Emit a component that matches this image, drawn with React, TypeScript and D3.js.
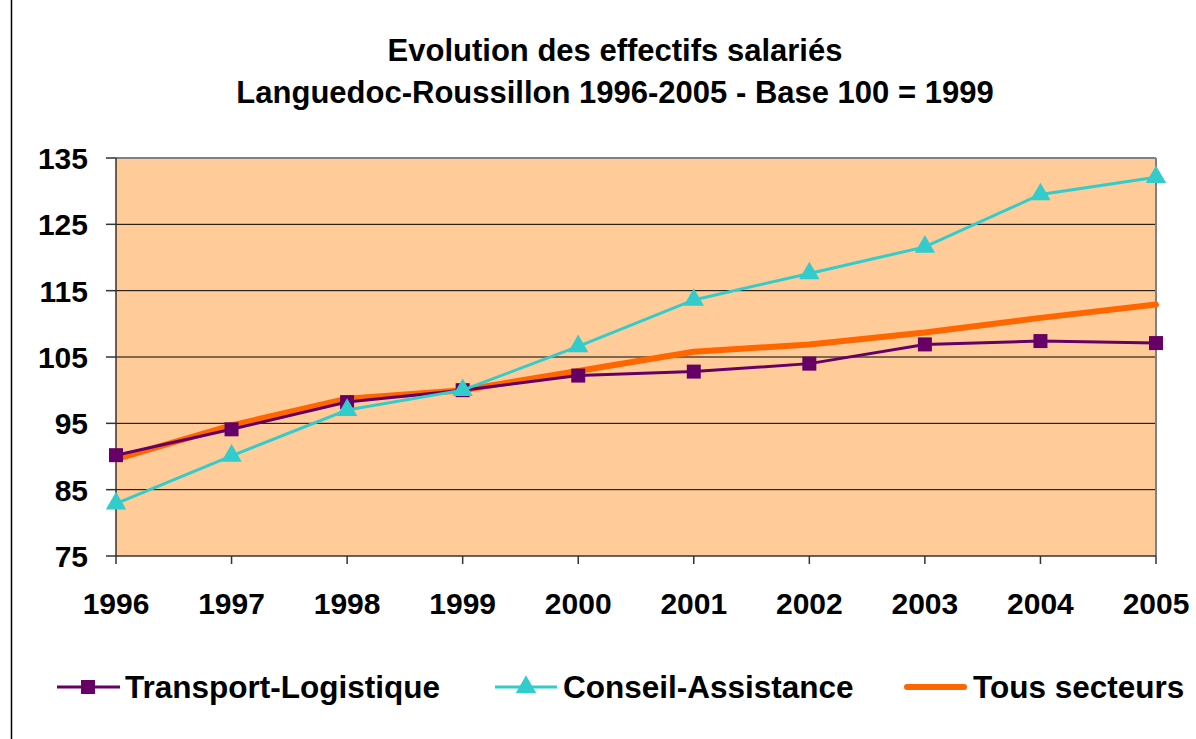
import React from 'react';
import * as d3 from 'd3';

const years = [1996, 1997, 1998, 1999, 2000, 2001, 2002, 2003, 2004, 2005];
const transport = [90.2, 94.1, 98.2, 100, 102.2, 102.8, 104.0, 106.9, 107.4, 107.1];
const conseil = [82.9, 90.1, 97.0, 100, 106.6, 113.6, 117.6, 121.6, 129.5, 132.1];
const tous = [89.6, 94.7, 98.7, 100, 102.9, 105.8, 106.9, 108.7, 110.9, 112.9];
const yTicks = [75, 85, 95, 105, 115, 125, 135];

const titleLines = [
  'Evolution des effectifs salariés',
  'Languedoc-Roussillon 1996-2005 - Base 100 = 1999',
];

const FONT = '"Liberation Sans", Arial, sans-serif';

function App() {
  const width = 1196;
  const height = 739;
  const left = 116;
  const right = 1156;
  const top = 158;
  const bottom = 556;

  const x = d3.scalePoint<number>().domain(years).range([left, right]);
  const y = d3.scaleLinear().domain([75, 135]).range([bottom, top]);

  const line = d3
    .line<number>()
    .x((d, i) => x(years[i]) as number)
    .y((d) => y(d));

  const tri = d3.symbol().type(d3.symbolTriangle).size(180)();

  return (
    <svg
      width={width}
      height={height}
      style={{ position: 'absolute', left: 0, top: 0, background: '#fff' }}
      fontFamily={FONT}
      fontWeight="bold"
    >
      <line x1={11.5} x2={11.5} y1={0} y2={height} stroke="#000" strokeWidth={1.5} />

      {titleLines.map((t, i) => (
        <text key={i} x={615} y={61 + i * 42} textAnchor="middle" fontSize={31}>
          {t}
        </text>
      ))}

      <rect x={left} y={top} width={right - left} height={bottom - top} fill="#FFCC99" />

      {yTicks.slice(1, -1).map((t) => (
        <line key={t} x1={left} x2={right} y1={y(t)} y2={y(t)} stroke="#000" strokeWidth={1} />
      ))}
      <line x1={left} x2={right} y1={top} y2={top} stroke="#808080" strokeWidth={2} />
      <line x1={right} x2={right} y1={top} y2={bottom} stroke="#808080" strokeWidth={2} />

      {/* axes */}
      <line x1={left} x2={left} y1={top} y2={bottom} stroke="#333" strokeWidth={1.5} />
      <line x1={left} x2={right} y1={bottom} y2={bottom} stroke="#333" strokeWidth={1.5} />
      {yTicks.map((t) => (
        <g key={t}>
          <line x1={left - 10} x2={left} y1={y(t)} y2={y(t)} stroke="#333" strokeWidth={1.5} />
          <text x={88} y={y(t) + 11} textAnchor="end" fontSize={30}>
            {t}
          </text>
        </g>
      ))}
      {years.map((yr) => (
        <g key={yr}>
          <line x1={x(yr)} x2={x(yr)} y1={bottom} y2={bottom + 8} stroke="#333" strokeWidth={1.5} />
          <text x={x(yr)} y={614} textAnchor="middle" fontSize={30}>
            {yr}
          </text>
        </g>
      ))}

      {/* series */}
      <path d={line(tous) || ''} fill="none" stroke="#FF6600" strokeWidth={6} strokeLinejoin="round" strokeLinecap="round" />
      <path d={line(transport) || ''} fill="none" stroke="#660066" strokeWidth={3} />
      {transport.map((v, i) => (
        <rect key={i} x={(x(years[i]) as number) - 7} y={y(v) - 7} width={14} height={14} fill="#660066" />
      ))}
      <path d={line(conseil) || ''} fill="none" stroke="#33CCCC" strokeWidth={3} />
      {conseil.map((v, i) => (
        <path key={i} d={tri || ''} transform={`translate(${x(years[i])},${y(v)})`} fill="#33CCCC" />
      ))}

      {/* legend */}
      <g fontSize={31.5}>
        <line x1={57} x2={120} y1={687} y2={687} stroke="#660066" strokeWidth={3} />
        <rect x={81} y={680} width={14} height={14} fill="#660066" />
        <text x={125} y={698}>Transport-Logistique</text>

        <line x1={495} x2={557} y1={687} y2={687} stroke="#33CCCC" strokeWidth={3} />
        <path d={tri || ''} transform="translate(526,687)" fill="#33CCCC" />
        <text x={563} y={698}>Conseil-Assistance</text>

        <line x1={907} x2={964} y1={687} y2={687} stroke="#FF6600" strokeWidth={6} strokeLinecap="round" />
        <text x={973} y={698}>Tous secteurs</text>
      </g>
    </svg>
  );
}

export default App;
